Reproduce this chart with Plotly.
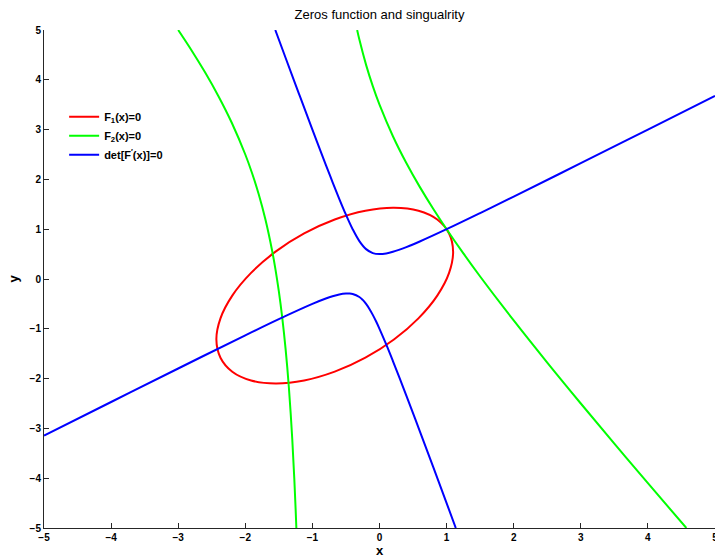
import plotly.graph_objects as go

# F1(x)=0 : closed curve (ellipse)
f1_x = [0.861, 1.037, 1.097, 1.037, 0.861, 0.580, 0.215, -0.210, -0.667, -1.123, -1.549, -1.914,
        -2.194, -2.370, -2.431, -2.370, -2.194, -1.914, -1.549, -1.123, -0.667, -0.210, 0.215, 0.581, 0.861]
f1_y = [1.194, 0.914, 0.549, 0.123, -0.333, -0.790, -1.215, -1.580, -1.861, -2.037, -2.097, -2.037,
        -1.861, -1.580, -1.215, -0.790, -0.333, 0.123, 0.549, 0.914, 1.194, 1.370, 1.430, 1.370, 1.194]

# F2(x)=0 : two branches
f2a_x = [-3.0, -2.8, -2.6, -2.4, -2.2, -2.0, -1.9, -1.8, -1.7, -1.6, -1.55, -1.5, -1.45, -1.4, -1.35, -1.3, -1.27, -1.25, -1.239]
f2a_y = [5.0, 4.589, 4.15, 3.671, 3.133, 2.5, 2.128, 1.7, 1.193, 0.567, 0.189, -0.25, -0.769, -1.4, -2.189, -3.217, -4.002, -4.625, -5.0]
f2b_x = [-0.333, -0.3, -0.2, -0.1, 0.0, 0.2, 0.4, 0.6, 0.8, 1.0, 1.25, 1.5, 2.0, 2.5, 3.0, 3.5, 4.0, 4.573]
f2b_y = [5.0, 4.807, 4.3, 3.872, 3.5, 2.867, 2.329, 1.85, 1.411, 1.0, 0.514, 0.05, -0.833, -1.679, -2.5, -3.306, -4.1, -5.0]

# det[F'(x)]=0 : two branches
da_x = [-1.553, -1.4, -1.2, -1.0, -0.8, -0.7, -0.6, -0.5, -0.4, -0.3, -0.2, -0.1, 0.0, 0.1, 0.2, 0.4, 0.6, 1.0, 1.5, 2.0, 3.0, 4.0, 5.0]
da_y = [5.0, 4.443, 3.719, 3.0, 2.293, 1.947, 1.610, 1.291, 1.0, 0.761, 0.6, 0.5205, 0.5, 0.514, 0.547, 0.641, 0.753, 1.0, 1.324, 1.655, 2.325, 3.0, 3.677]
db_x = [-5.0, -4.0, -3.0, -2.0, -1.5, -1.0, -0.8, -0.7, -0.6, -0.5, -0.45, -0.4, -0.3, -0.25, -0.2, -0.15, -0.1, -0.05, 0.0, 0.1, 0.2, 0.3, 0.4, 0.6, 0.8, 1.0, 1.137]
db_y = [-3.145, -2.470, -1.797, -1.131, -0.806, -0.5, -0.3925, -0.347, -0.3105, -0.2905, -0.2905, -0.3, -0.361, -0.4198, -0.5, -0.601, -0.7205, -0.8545, -1.0, -1.314, -1.647, -1.990, -2.341, -3.053, -3.774, -4.5, -5.0]

tick_vals = [-5, -4, -3, -2, -1, 0, 1, 2, 3, 4, 5]
tick_text = ["\u22125", "\u22124", "\u22123", "\u22122", "\u22121", "0", "1", "2", "3", "4", "5"]

RED, GREEN, BLUE = "#ff0000", "#00ff00", "#0000ff"
W = 2

fig = go.Figure()
fig.add_trace(go.Scatter(x=f1_x, y=f1_y, mode="lines", line=dict(color=RED, width=W, shape="spline"),
                         name="<b>F<sub>1</sub>(x)=0</b>", legendgroup="f1"))
fig.add_trace(go.Scatter(x=f2a_x, y=f2a_y, mode="lines", line=dict(color=GREEN, width=W, shape="spline"),
                         name="<b>F<sub>2</sub>(x)=0</b>", legendgroup="f2"))
fig.add_trace(go.Scatter(x=f2b_x, y=f2b_y, mode="lines", line=dict(color=GREEN, width=W, shape="spline"),
                         showlegend=False, legendgroup="f2"))
fig.add_trace(go.Scatter(x=da_x, y=da_y, mode="lines", line=dict(color=BLUE, width=W, shape="spline"),
                         name="<b>det[F<sup>\u2032</sup>(x)]=0</b>", legendgroup="d"))
fig.add_trace(go.Scatter(x=db_x, y=db_y, mode="lines", line=dict(color=BLUE, width=W, shape="spline"),
                         showlegend=False, legendgroup="d"))

axis_common = dict(
    range=[-5, 5], tickvals=tick_vals, ticktext=tick_text, ticks="inside", ticklen=5,
    tickcolor="#262626", tickwidth=1, showline=True, linecolor="#262626", linewidth=1,
    showgrid=False, zeroline=False, mirror=False, ticklabeloverflow="allow", automargin=False,
    tickfont=dict(family="Liberation Sans, Arial, sans-serif", size=10, color="#000", weight="bold"),
)

fig.update_layout(
    width=715, height=559,
    margin=dict(l=44, r=0, t=30, b=31),
    paper_bgcolor="white", plot_bgcolor="white",
    title=dict(text="Zeros function and singualrity", x=0.5, xanchor="center", xref="paper",
               y=0.975, yanchor="middle",
               font=dict(family="Liberation Sans, Arial, sans-serif", size=13, color="#000")),
    xaxis=dict(**axis_common,
               title=dict(text="<b>x</b>", standoff=2,
                          font=dict(family="Liberation Sans, Arial, sans-serif", size=13, color="#000"))),
    yaxis=dict(**axis_common,
               title=dict(text="<b>y</b>", standoff=8,
                          font=dict(family="Liberation Sans, Arial, sans-serif", size=13, color="#000"))),
    legend=dict(x=0.03, y=0.855, xanchor="left", yanchor="top", bgcolor="rgba(0,0,0,0)",
                font=dict(family="Liberation Sans, Arial, sans-serif", size=11, color="#000"),
                itemwidth=30, tracegroupgap=0),
    showlegend=True,
)

fig.write_html("out.html")
